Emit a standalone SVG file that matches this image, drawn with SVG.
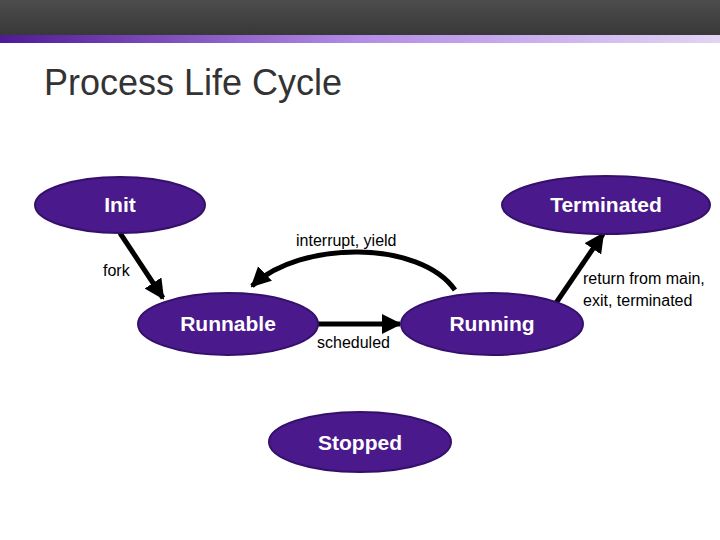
<svg xmlns="http://www.w3.org/2000/svg" width="720" height="540" viewBox="0 0 720 540">
<defs>
<linearGradient id="top" x1="0" y1="0" x2="0" y2="1"><stop offset="0" stop-color="#4d4d4d"/><stop offset="1" stop-color="#383838"/></linearGradient>
<linearGradient id="band" x1="0" y1="0" x2="1" y2="0"><stop offset="0" stop-color="#4e1a96"/><stop offset="0.5" stop-color="#b48ce6"/><stop offset="1" stop-color="#e2d4f4"/></linearGradient>
<marker id="ah" viewBox="0 0 10 10" refX="9" refY="5" markerWidth="4" markerHeight="4" orient="auto"><path d="M0,0L10,5L0,10z" fill="#000"/></marker>
<style>
.n{fill:#4a1a8c;stroke:#35106a;stroke-width:2}
.t{font-family:"Liberation Sans",Arial,sans-serif;font-weight:bold;font-size:21px;fill:#fff;text-anchor:middle}
.l{font-family:"Liberation Sans",Arial,sans-serif;font-size:16px;fill:#000}
.c{stroke:#000;stroke-width:5;fill:none}
</style>
</defs>
<rect width="720" height="540" fill="#fff"/>
<rect width="720" height="35" fill="url(#top)"/>
<rect y="35" width="720" height="8" fill="url(#band)"/>
<text x="44" y="95" font-family="Liberation Sans,Arial,sans-serif" font-size="36" fill="#333">Process Life Cycle</text>
<g id="connectors">
<line class="c" x1="120" y1="233" x2="163" y2="298" marker-end="url(#ah)"/>
<line class="c" x1="318" y1="324" x2="400" y2="324" marker-end="url(#ah)"/>
<line class="c" x1="556" y1="303" x2="603" y2="234" marker-end="url(#ah)"/>
<path class="c" d="M455,290 C420,240 300,240 252,286" marker-end="url(#ah)"/>
</g>
<g id="labels">
<text class="l" x="296" y="246">interrupt, yield</text>
<text class="l" x="103" y="276">fork</text>
<text class="l" x="317" y="348">scheduled</text>
<text class="l" x="583" y="284">return from main,</text>
<text class="l" x="583" y="306">exit, terminated</text>
</g>
<g id="init"><ellipse class="n" cx="120" cy="205" rx="85" ry="28"/><text class="t" x="120" y="212">Init</text></g>
<g id="terminated"><ellipse class="n" cx="606" cy="205" rx="104" ry="29"/><text class="t" x="606" y="212">Terminated</text></g>
<g id="runnable"><ellipse class="n" cx="228" cy="324" rx="90" ry="31"/><text class="t" x="228" y="331">Runnable</text></g>
<g id="running"><ellipse class="n" cx="492" cy="324" rx="91" ry="31"/><text class="t" x="492" y="331">Running</text></g>
<g id="stopped"><ellipse class="n" cx="360" cy="442" rx="91" ry="30"/><text class="t" x="360" y="450">Stopped</text></g>
</svg>
